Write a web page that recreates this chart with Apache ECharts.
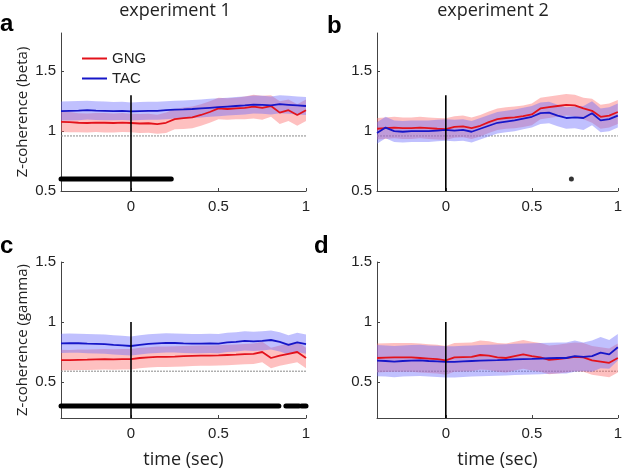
<!DOCTYPE html>
<html>
<head>
<meta charset="utf-8">
<script src="https://cdn.jsdelivr.net/npm/echarts@6/dist/echarts.min.js"></script>
<style>html,body{margin:0;padding:0;background:#fff}#c{width:625px;height:474px}</style>
</head>
<body>
<div id="c"></div>
<script>
// ---- data ----
const time = [-0.4,-0.35,-0.3,-0.25,-0.2,-0.15,-0.1,-0.05,0,0.05,0.1,0.15,0.2,0.25,0.3,0.35,0.4,0.45,0.5,0.55,0.6,0.65,0.7,0.75,0.8,0.85,0.9,0.95,1.0];
const xTicks = [0, 0.5, 1];
const yTicks = [0.5, 1, 1.5];
const panelTitles = ['experiment 1', 'experiment 2'];
const panelLetters = ['a', 'b', 'c', 'd'];
const seriesNames = ['GNG', 'TAC'];

// panel a (beta, experiment 1)
const aGng = [1.077,1.075,1.07,1.068,1.072,1.07,1.068,1.072,1.068,1.064,1.066,1.058,1.07,1.1,1.108,1.115,1.135,1.16,1.19,1.185,1.19,1.195,1.205,1.195,1.21,1.155,1.175,1.135,1.175];
const aGngErr = [0.085,0.085,0.08,0.08,0.08,0.082,0.08,0.08,0.078,0.08,0.08,0.08,0.085,0.085,0.09,0.09,0.09,0.09,0.09,0.09,0.09,0.095,0.1,0.1,0.09,0.095,0.09,0.09,0.09];
const aTac = [1.168,1.17,1.172,1.175,1.172,1.17,1.168,1.17,1.165,1.168,1.17,1.17,1.175,1.18,1.182,1.185,1.19,1.195,1.2,1.205,1.21,1.215,1.222,1.22,1.215,1.225,1.22,1.215,1.21];
const aTacErr = [0.08,0.08,0.08,0.078,0.078,0.078,0.076,0.076,0.075,0.075,0.075,0.075,0.075,0.075,0.075,0.075,0.075,0.075,0.075,0.075,0.075,0.075,0.075,0.075,0.075,0.075,0.075,0.075,0.075];
const aRef = 0.96;
const aSig = [[-0.4, 0.23]];
const aSigY = 0.6;

// panel b (beta, experiment 2)
const bGng = [1.02,1.025,1.03,1.025,1.025,1.03,1.025,1.02,1.017,1.035,1.04,1.025,1.045,1.075,1.1,1.11,1.115,1.125,1.14,1.19,1.2,1.21,1.22,1.215,1.19,1.17,1.12,1.13,1.16];
const bGngErr = [0.09,0.09,0.09,0.09,0.09,0.09,0.09,0.09,0.09,0.09,0.09,0.09,0.09,0.09,0.09,0.09,0.09,0.09,0.09,0.09,0.09,0.09,0.09,0.09,0.09,0.1,0.1,0.1,0.1];
const bTac = [0.985,1.03,1.0,0.995,1.0,1.0,1.0,1.005,1.01,1.005,1.01,0.995,1.02,1.045,1.07,1.08,1.09,1.105,1.12,1.15,1.155,1.13,1.11,1.115,1.11,1.15,1.09,1.1,1.13];
const bTacErr = [0.09,0.09,0.09,0.09,0.09,0.09,0.09,0.09,0.09,0.09,0.09,0.09,0.09,0.09,0.09,0.09,0.09,0.09,0.09,0.09,0.09,0.09,0.09,0.09,0.1,0.1,0.1,0.1,0.1];
const bRef = 0.96;
const bSigPts = [0.73];
const bSigY = 0.6;

// panel c (gamma, experiment 1)
const cGng = [0.683,0.682,0.685,0.686,0.688,0.69,0.688,0.69,0.69,0.7,0.705,0.71,0.71,0.712,0.715,0.718,0.72,0.72,0.722,0.725,0.728,0.732,0.735,0.75,0.70,0.72,0.735,0.75,0.70];
const cGngErr = [0.085,0.085,0.085,0.085,0.085,0.085,0.085,0.085,0.085,0.085,0.085,0.085,0.085,0.085,0.085,0.085,0.085,0.085,0.085,0.085,0.085,0.085,0.085,0.085,0.085,0.085,0.085,0.085,0.085];
const cTac = [0.822,0.824,0.823,0.82,0.818,0.815,0.81,0.806,0.80,0.81,0.818,0.822,0.826,0.825,0.822,0.82,0.82,0.822,0.82,0.83,0.835,0.843,0.838,0.842,0.85,0.835,0.81,0.83,0.815];
const cTacErr = [0.08,0.08,0.08,0.08,0.08,0.08,0.08,0.08,0.08,0.08,0.08,0.08,0.08,0.08,0.08,0.08,0.08,0.08,0.08,0.08,0.08,0.08,0.08,0.08,0.08,0.08,0.08,0.08,0.08];
const cRef = 0.59;
const cSig = [[-0.4, 0.845], [0.885, 0.96], [0.975, 1.0]];
const cSigY = 0.3;

// panel d (gamma, experiment 2)
const dGng = [0.70,0.703,0.705,0.705,0.705,0.70,0.695,0.69,0.68,0.705,0.708,0.71,0.725,0.72,0.705,0.70,0.715,0.73,0.715,0.705,0.685,0.69,0.70,0.71,0.705,0.68,0.67,0.66,0.70];
const dGngErr = [0.12,0.12,0.12,0.12,0.12,0.12,0.12,0.12,0.12,0.12,0.12,0.12,0.12,0.12,0.12,0.12,0.12,0.12,0.12,0.12,0.12,0.12,0.12,0.12,0.12,0.12,0.12,0.12,0.12];
const dTac = [0.678,0.675,0.67,0.675,0.678,0.68,0.675,0.672,0.668,0.668,0.672,0.675,0.678,0.68,0.682,0.685,0.688,0.69,0.692,0.695,0.698,0.70,0.70,0.715,0.71,0.715,0.745,0.73,0.79];
const dTacErr = [0.13,0.13,0.13,0.13,0.13,0.13,0.13,0.13,0.13,0.13,0.13,0.13,0.13,0.13,0.13,0.13,0.13,0.13,0.13,0.13,0.13,0.13,0.13,0.13,0.12,0.13,0.13,0.12,0.11];
const dRef = 0.59;

const onsetTopBeta = 1.3;
const onsetTopGamma = 1.0;

// ---- styles ----
const RED = '#e3121b';
const BLUE = '#1616c8';
const RED_BAND = 'rgba(252,105,105,0.42)';
const BLUE_BAND = 'rgba(105,105,252,0.42)';
const AXIS_COL = '#444';
const TXT = '#222';
const TICK_FONT = 'Arial, "Liberation Sans", sans-serif';
const TEXT_FONT = '"Open Sans", sans-serif';

const grids = [
  {left: 61, top: 33, width: 245, height: 158},
  {left: 377, top: 33, width: 243, height: 158},
  {left: 61, top: 262, width: 245, height: 156},
  {left: 377, top: 262, width: 243, height: 156}
];
const yRanges = [[0.5, 1.82], [0.5, 1.82], [0.2, 1.5], [0.2, 1.5]];

const xAxes = grids.map((g, i) => ({
  type: 'value', gridIndex: i, min: -0.4, max: 1.0,
  axisLine: {show: true, onZero: false, lineStyle: {color: AXIS_COL, width: 1}},
  axisTick: {show: true, inside: true, length: 3, customValues: xTicks, lineStyle: {color: AXIS_COL}},
  axisLabel: {show: true, customValues: xTicks, color: TXT, fontSize: 15, fontFamily: TICK_FONT, margin: 8},
  splitLine: {show: false},
  name: i >= 2 ? 'time (sec)' : '',
  nameLocation: 'middle', nameGap: 33,
  nameTextStyle: {color: TXT, fontSize: 18, fontFamily: TEXT_FONT}
}));
const yNames = ['Z-coherence (beta)', '', 'Z-coherence (gamma)', ''];
const yAxes = grids.map((g, i) => ({
  type: 'value', gridIndex: i, min: yRanges[i][0], max: yRanges[i][1],
  axisLine: {show: true, onZero: false, lineStyle: {color: AXIS_COL, width: 1}},
  axisTick: {show: true, inside: true, length: 3, customValues: yTicks, lineStyle: {color: AXIS_COL}},
  axisLabel: {show: true, customValues: yTicks, color: TXT, fontSize: 15, fontFamily: TICK_FONT, margin: 5},
  splitLine: {show: false},
  name: yNames[i], nameLocation: 'middle', nameGap: 31, nameRotate: 90,
  nameTextStyle: {color: TXT, fontSize: 15, fontFamily: TEXT_FONT}
}));

const series = [];
// shaded band drawn as one polygon through the library's coordinate system
function band(i, mean, err, color) {
  series.push({
    type: 'custom', xAxisIndex: i, yAxisIndex: i, silent: true, z: 2,
    data: time.map((t, k) => [t, mean[k] - err[k], mean[k] + err[k]]),
    encode: {x: 0, y: [1, 2]},
    renderItem: function (params, api) {
      if (params.dataIndexInside !== 0) return null;
      const n = params.dataInsideLength;
      const pts = [];
      for (let k = 0; k < n; k++) pts.push(api.coord([api.value(0, k), api.value(2, k)]));
      for (let k = n - 1; k >= 0; k--) pts.push(api.coord([api.value(0, k), api.value(1, k)]));
      return {type: 'polygon', shape: {points: pts}, style: {fill: color}};
    }
  });
}
function meanLine(i, mean, color, name) {
  series.push({
    type: 'line', name: name, xAxisIndex: i, yAxisIndex: i, symbol: 'none', z: 5,
    lineStyle: {color: color, width: 1.8}, itemStyle: {color: color},
    data: time.map((t, k) => [t, mean[k]])
  });
}
function refLine(i, y) {
  series.push({
    type: 'line', xAxisIndex: i, yAxisIndex: i, symbol: 'none', silent: true, z: 1,
    lineStyle: {color: '#8a8a8a', width: 1, type: [2, 1]},
    data: [[-0.4, y], [1.0, y]]
  });
}
function onset(i, y0, y1) {
  series.push({
    type: 'line', xAxisIndex: i, yAxisIndex: i, symbol: 'none', silent: true, z: 6,
    lineStyle: {color: '#000', width: 1.6},
    data: [[0, y0], [0, y1]]
  });
}
function sigSegs(i, segs, y) {
  segs.forEach(s => series.push({
    type: 'line', xAxisIndex: i, yAxisIndex: i, symbol: 'none', silent: true, z: 7,
    lineStyle: {color: '#000', width: 5, cap: 'round'},
    data: [[s[0], y], [s[1], y]]
  }));
}

const panels = [
  {gng: aGng, gErr: aGngErr, tac: aTac, tErr: aTacErr, ref: aRef, top: onsetTopBeta},
  {gng: bGng, gErr: bGngErr, tac: bTac, tErr: bTacErr, ref: bRef, top: onsetTopBeta},
  {gng: cGng, gErr: cGngErr, tac: cTac, tErr: cTacErr, ref: cRef, top: onsetTopGamma},
  {gng: dGng, gErr: dGngErr, tac: dTac, tErr: dTacErr, ref: dRef, top: onsetTopGamma}
];
panels.forEach((p, i) => {
  refLine(i, p.ref);
  band(i, p.gng, p.gErr, RED_BAND);
  band(i, p.tac, p.tErr, BLUE_BAND);
  meanLine(i, p.gng, RED, seriesNames[0]);
  meanLine(i, p.tac, BLUE, seriesNames[1]);
  onset(i, yRanges[i][0], p.top);
});
sigSegs(0, aSig, aSigY);
sigSegs(2, cSig, cSigY);
series.push({
  type: 'scatter', xAxisIndex: 1, yAxisIndex: 1, symbolSize: 5, z: 7, silent: true,
  itemStyle: {color: '#000'}, data: bSigPts.map(t => [t, bSigY])
});

const letterPos = [[0, 12], [327, 14], [0, 234], [314, 234]];
const graphic = [];
panelLetters.forEach((l, i) => graphic.push({
  type: 'text', left: letterPos[i][0], top: letterPos[i][1],
  style: {text: l, fill: '#000', font: 'bold 24px Arial, "Liberation Sans", sans-serif'}
}));
[[175, 11], [493, 11]].forEach((p, i) => graphic.push({
  type: 'text', x: p[0], y: p[1],
  style: {text: panelTitles[i], fill: TXT, font: '18px "Open Sans", sans-serif', align: 'center', verticalAlign: 'middle'}
}));

const chart = echarts.init(document.getElementById('c'), null, {renderer: 'canvas'});
chart.setOption({
  animation: false,
  backgroundColor: '#fff',
  grid: grids,
  xAxis: xAxes,
  yAxis: yAxes,
  legend: {
    data: seriesNames, orient: 'vertical', left: 77, top: 46,
    itemWidth: 25, itemHeight: 2, itemGap: 5, icon: 'rect',
    textStyle: {color: TXT, fontSize: 15, fontFamily: TICK_FONT}
  },
  graphic: graphic,
  series: series
});
</script>
</body>
</html>
